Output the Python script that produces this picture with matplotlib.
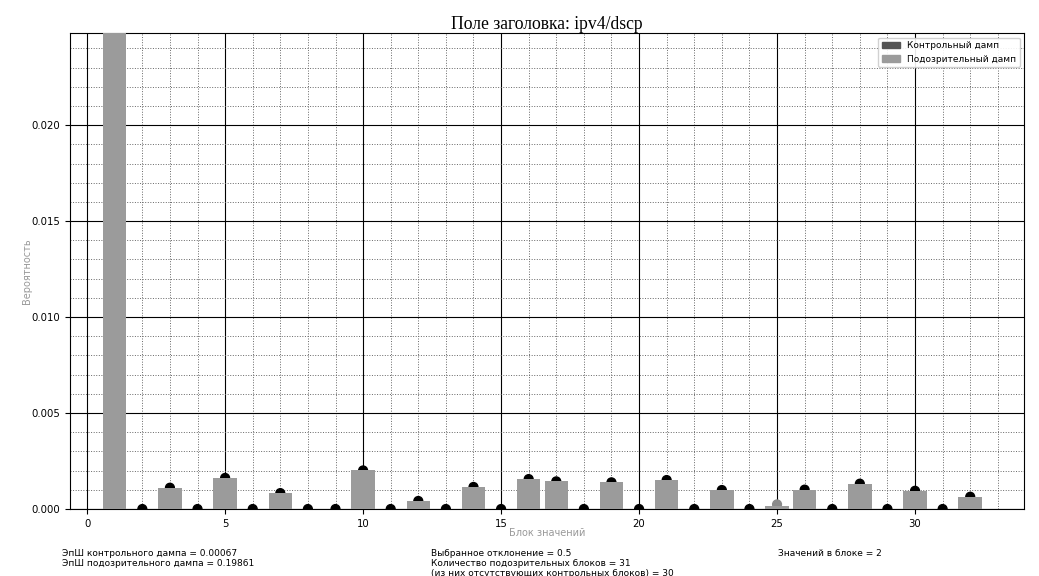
import matplotlib.pyplot as plt
from matplotlib.ticker import MultipleLocator
from matplotlib.patches import Patch

# suspicious dump probabilities per value block
blocks = list(range(1, 33))
susp = [0.9, 0.0, 0.00111, 0.0, 0.00162, 0.0, 0.00083, 0.0, 0.0, 0.00201,
        0.0, 0.00042, 0.0, 0.00115, 0.0, 0.00156, 0.00144, 0.0, 0.00139, 0.0,
        0.00151, 0.0, 0.00099, 0.0, 0.00015, 0.00101, 0.0, 0.00132, 0.0, 0.00095,
        0.0, 0.00064]
# dots over the blocks (same values, except block 25)
dots = list(susp)
dots[24] = 0.00024

title = 'Поле заголовка: ipv4/dscp'
xlabel = 'Блок значений'
ylabel = 'Вероятность'
info_left = 'ЭпШ контрольного дампа = 0.00067\nЭпШ подозрительного дампа = 0.19861'
info_mid = ('Выбранное отклонение = 0.5\nКоличество подозрительных блоков = 31\n'
            '(из них отсутствующих контрольных блоков) = 30')
info_right = 'Значений в блоке = 2'

fig = plt.figure(figsize=(10.39, 5.76), dpi=100)
ax = fig.add_axes([0.0674, 0.1163, 0.9182, 0.8264])

dot_cols = ['black'] * len(blocks)
dot_cols[24] = '#8a8a8a'
ax.scatter(blocks, dots, s=40, c=dot_cols, zorder=2)
ax.bar(blocks, susp, width=0.85, color='#9b9b9b', zorder=3)

ax.set_xlim(-0.62, 33.95)
ax.set_ylim(0, 0.0248)
ax.xaxis.set_major_locator(MultipleLocator(5))
ax.xaxis.set_minor_locator(MultipleLocator(1))
ax.yaxis.set_major_locator(MultipleLocator(0.005))
ax.yaxis.set_minor_locator(MultipleLocator(0.001))
ax.grid(which='major', color='black', linestyle='-', linewidth=0.8, zorder=1)
ax.grid(which='minor', color='#666666', linestyle=':', linewidth=0.7, zorder=1)
ax.set_axisbelow(True)
ax.tick_params(which='minor', length=0)
ax.tick_params(labelsize=7.3)
ax.yaxis.set_major_formatter(lambda v, p: f'{v:.3f}')

ax.set_title(title, family='Liberation Serif', fontsize=12.7, pad=3)
ax.set_xlabel(xlabel, color='#999999', fontsize=7)
ax.xaxis.set_label_coords(0.5, -0.04)
ax.set_ylabel(ylabel, color='#999999', fontsize=7)
ax.yaxis.set_label_coords(-0.04, 0.5)

handles = [Patch(color='#555555', label='Контрольный дамп'),
           Patch(color='#9b9b9b', label='Подозрительный дамп')]
ax.legend(handles=handles, loc='upper right', fontsize=6.5, framealpha=0.9)

fig.text(0.06, 0.047, info_left, fontsize=6.5, va='top', linespacing=1.15)
fig.text(0.415, 0.047, info_mid, fontsize=6.5, va='top', linespacing=1.15)
fig.text(0.749, 0.047, info_right, fontsize=6.5, va='top')

fig.savefig('out.png', dpi=100)
